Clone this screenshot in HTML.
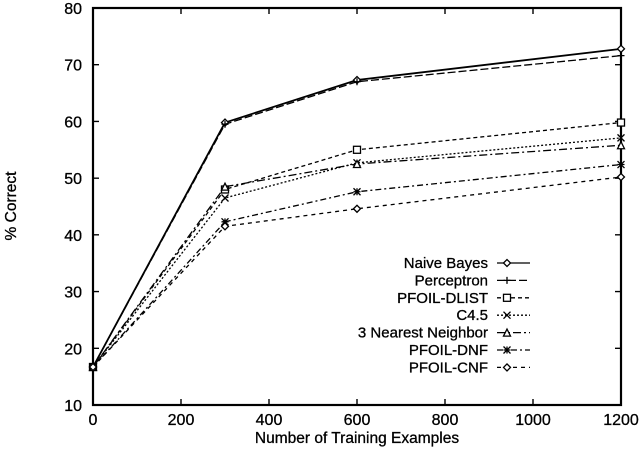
<!DOCTYPE html>
<html><head><meta charset="utf-8"><style>
body{margin:0;background:#fff}
svg text{font-family:"Liberation Sans",Arial,sans-serif;fill:#000;stroke:#000;stroke-width:0.3}
</style></head><body>
<svg id="chart" width="640" height="449" xmlns="http://www.w3.org/2000/svg"></svg>
<script>
const xValues=[0,300,600,1200];
const seriesNames=["Naive Bayes","Perceptron","PFOIL-DLIST","C4.5","3 Nearest Neighbor","PFOIL-DNF","PFOIL-CNF"];
const naiveBayes=[16.7,59.8,67.3,72.8];
const perceptron=[16.7,59.5,67.0,71.6];
const pfoilDlist=[16.7,48.0,55.0,59.8];
const c45=[16.7,46.5,52.7,57.1];
const nearestNeighbor=[16.7,48.5,52.5,55.8];
const pfoilDnf=[16.7,42.3,47.6,52.4];
const pfoilCnf=[16.7,41.5,44.6,50.2];
const xTicks=[0,200,400,600,800,1000,1200];
const yTicks=[10,20,30,40,50,60,70,80];
const allSeries=[naiveBayes,perceptron,pfoilDlist,c45,nearestNeighbor,pfoilDnf,pfoilCnf];
const dashes=["","8,3","4,3","2,2","8,3,2,3","6,3,2,3","4,4"];
const markers=["diamond","plus","square","x","triangle","star","diamond"];
const X0=93,X1=621,Y0=405,Y1=8;
const sx=v=>X0+(v-0)/1200*(X1-X0);
const sy=v=>Y0-(v-10)/70*(Y0-Y1);
const svg=document.getElementById('chart');
const NS="http://www.w3.org/2000/svg";
function mk(t,a,p){const e=document.createElementNS(NS,t);for(const k in a)e.setAttribute(k,a[k]);(p||svg).appendChild(e);return e;}
function marker(type,x,y,g){
 const s=3.5;let e;
 if(type==="diamond")e=mk('path',{d:`M${x-s} ${y}L${x} ${y-s}L${x+s} ${y}L${x} ${y+s}Z`,fill:'#fff',stroke:'#000','stroke-width':1.3},g);
 else if(type==="plus")e=mk('path',{d:`M${x-s} ${y}H${x+s}M${x} ${y-s}V${y+s}`,stroke:'#000','stroke-width':1.3},g);
 else if(type==="square")e=mk('rect',{x:x-s,y:y-s,width:2*s,height:2*s,fill:'#fff',stroke:'#000','stroke-width':1.3},g);
 else if(type==="x")e=mk('path',{d:`M${x-s} ${y-s}L${x+s} ${y+s}M${x-s} ${y+s}L${x+s} ${y-s}`,stroke:'#000','stroke-width':1.3},g);
 else if(type==="triangle")e=mk('path',{d:`M${x-s} ${y+s}L${x} ${y-s}L${x+s} ${y+s}Z`,fill:'#fff',stroke:'#000','stroke-width':1.3},g);
 else e=mk('path',{d:`M${x-s} ${y}H${x+s}M${x} ${y-s}V${y+s}M${x-s} ${y-s}L${x+s} ${y+s}M${x-s} ${y+s}L${x+s} ${y-s}`,stroke:'#000','stroke-width':1.3},g);
 
 
}
const frame=mk('rect',{x:X0,y:Y1,width:X1-X0,height:Y0-Y1,fill:'none',stroke:'#000','stroke-width':2.2});

yTicks.forEach(v=>{
 const y=sy(v);
 mk('path',{d:`M${X0} ${y}h6M${X1} ${y}h-6`,stroke:'#000','stroke-width':1.4});
 const t=mk('text',{x:X0-11,y:y+6,'text-anchor':'end','font-size':16});t.textContent=v;
 
});
xTicks.forEach(v=>{
 const x=sx(v);
 mk('path',{d:`M${x} ${Y0}v-6M${x} ${Y1}v6`,stroke:'#000','stroke-width':1.4});
 const t=mk('text',{x:x,y:Y0+20,'text-anchor':'middle','font-size':16});t.textContent=v;
 
});
const xt=mk('text',{x:357,y:443,'text-anchor':'middle','font-size':15.5});xt.textContent="Number of Training Examples";

const yt=mk('text',{x:0,y:0,'text-anchor':'middle','font-size':15.5,transform:'translate(16,206) rotate(-90)'});yt.textContent="% Correct";

allSeries.forEach((s,i)=>{
 const g=mk('g',{});
 
 
 const d=s.map((v,j)=>(j?'L':'M')+sx(xValues[j])+' '+sy(v)).join('');
 mk('path',{d:d,fill:'none',stroke:'#000','stroke-width':i===0?1.8:1.3,'stroke-dasharray':dashes[i]},g);
 s.forEach((v,j)=>marker(markers[i],sx(xValues[j]),sy(v),g));
 const ly=263+i*17.4;
 const lt=mk('text',{x:488,y:ly+5,'text-anchor':'end','font-size':15},g);lt.textContent=seriesNames[i];
 
 mk('path',{d:`M497 ${ly}H530`,stroke:'#000','stroke-width':1.3,'stroke-dasharray':dashes[i]},g);
 marker(markers[i],507,ly,g);
});
</script>
</body></html>
